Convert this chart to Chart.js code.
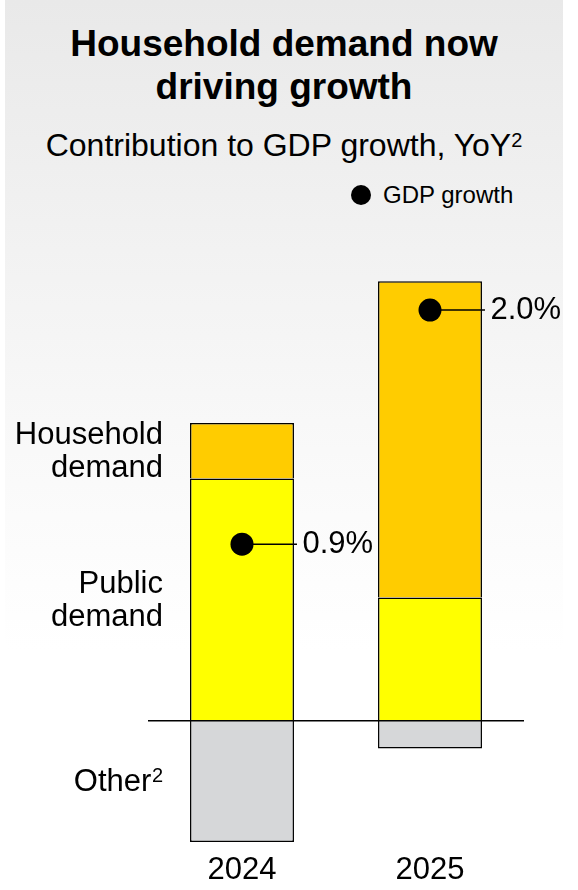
<!DOCTYPE html>
<html><head><meta charset="utf-8">
<script src="https://cdn.jsdelivr.net/npm/chart.js@4.4.1/dist/chart.umd.min.js"></script>
<style>
html,body{margin:0;padding:0;background:#fff;width:578px;height:890px;overflow:hidden;font-family:'Liberation Sans',Arial,sans-serif;}
#bg{position:absolute;left:5px;top:0;width:558px;height:890px;background:linear-gradient(to bottom,#e9e9e9 0px,#f2f2f2 250px,#f9f9f9 450px,#ffffff 650px);}
.t{position:absolute;white-space:nowrap;color:#000;}
#title{left:5px;width:558px;top:22px;text-align:center;font-weight:bold;font-size:37px;line-height:43px;}
#sub{left:5px;width:558px;top:128.6px;text-align:center;font-size:32px;line-height:32px;}
#sub span{font-size:20px;position:relative;top:-9px;}
#ldot{position:absolute;left:351px;top:185px;width:20px;height:20px;border-radius:50%;background:#000;}
#ltxt{left:383px;top:183.3px;font-size:24px;line-height:24px;}
#c{position:absolute;left:0;top:0;}
</style></head>
<body>
<div id="bg"></div>
<div class="t" id="title">Household demand now<br>driving growth</div>
<div class="t" id="sub">Contribution to GDP growth, YoY<span>2</span></div>
<div id="ldot"></div>
<div class="t" id="ltxt">GDP growth</div>
<canvas id="c" width="578" height="897"></canvas>
<script>
// ---- data ----
const categories = ['2024', '2025'];
const publicDemand = [1.18, 0.60];
const householdDemand = [0.27, 1.54];
const otherContrib = [-0.59, -0.135];
const gdpGrowth = [0.86, 2.0];
const seriesLabels = [['Public', 'demand'], ['Household', 'demand'], ['Other²']];
const legendLabel = 'GDP growth';

const FONT = "'Liberation Sans', Arial, sans-serif";
Chart.defaults.font.family = FONT;
Chart.defaults.color = '#000';

function drawLine(ctx, text, xRight, baseline, size) {
  const supIdx = text.indexOf('²');
  if (supIdx < 0) {
    ctx.textAlign = 'right';
    ctx.font = size + 'px ' + FONT;
    ctx.fillText(text, xRight, baseline);
    return;
  }
  const main = text.slice(0, supIdx);
  ctx.font = size + 'px ' + FONT;
  const wMain = ctx.measureText(main).width;
  const supSize = Math.round(size * 0.64);
  ctx.font = supSize + 'px ' + FONT;
  const wSup = ctx.measureText('2').width;
  const gap = 0.5;
  const x0 = xRight - wMain - gap - wSup;
  ctx.textAlign = 'left';
  ctx.font = size + 'px ' + FONT;
  ctx.fillText(main, x0, baseline);
  ctx.font = supSize + 'px ' + FONT;
  ctx.fillText('2', x0 + wMain + gap, baseline - size * 0.3);
}

const annot = {
  id: 'annot',
  afterDatasetsDraw(chart) {
    const ctx = chart.ctx;
    const ys = chart.scales.y;
    const area = chart.chartArea;
    ctx.save();
    // zero line
    const y0 = ys.getPixelForValue(0);
    ctx.strokeStyle = '#000';
    ctx.lineWidth = 1.5;
    ctx.beginPath();
    ctx.moveTo(area.left, y0);
    ctx.lineTo(area.right, y0);
    ctx.stroke();
    // series labels left of first bar
    ctx.fillStyle = '#000';
    ctx.textBaseline = 'alphabetic';
    for (let d = 0; d < 3; d++) {
      const el = chart.getDatasetMeta(d).data[0];
      const center = (el.y + el.base) / 2;
      const lines = seriesLabels[d];
      lines.forEach((ln, k) => {
        const bl = center + (k - (lines.length - 1) / 2) * 33.5 + 10;
        drawLine(ctx, ln, 163, bl, 31);
      });
    }
    // GDP value connectors and labels
    const pm = chart.getDatasetMeta(3);
    pm.data.forEach((pt, i) => {
      const bar = chart.getDatasetMeta(0).data[i];
      const right = bar.x + bar.width / 2;
      ctx.strokeStyle = '#000';
      ctx.lineWidth = 1.5;
      ctx.beginPath();
      ctx.moveTo(pt.x, pt.y);
      ctx.lineTo(right + 3, pt.y);
      ctx.stroke();
      ctx.font = '31px ' + FONT;
      ctx.textAlign = 'left';
      ctx.textBaseline = 'middle';
      ctx.fillText(gdpGrowth[i].toFixed(1) + '%', right + 8.5, pt.y);
    });
    ctx.restore();
  }
};

const barCommon = {
  borderColor: '#000',
  borderWidth: 1.5,
  barPercentage: 0.553,
  categoryPercentage: 1.0,
  stack: 'bars',
  order: 1
};

new Chart(document.getElementById('c'), {
  type: 'bar',
  data: {
    labels: categories,
    datasets: [
      Object.assign({ label: 'Public demand', data: publicDemand, backgroundColor: '#FFFF00' }, barCommon),
      Object.assign({ label: 'Household demand', data: householdDemand, backgroundColor: '#FFCC00' }, barCommon),
      Object.assign({ label: 'Other', data: otherContrib, backgroundColor: '#D6D7D9' }, barCommon),
      {
        type: 'line', label: legendLabel, data: gdpGrowth, stack: 'gdp', order: 0,
        showLine: false, pointRadius: 11.5, pointHoverRadius: 11.5,
        pointBackgroundColor: '#000', pointBorderWidth: 0, borderColor: '#000', backgroundColor: '#000'
      }
    ]
  },
  options: {
    responsive: false,
    animation: false,
    events: [],
    layout: { padding: { left: 148, right: 54, top: 269, bottom: 0 } },
    plugins: { legend: { display: false }, tooltip: { enabled: false }, title: { display: false } },
    scales: {
      x: {
        stacked: true,
        grid: { display: false, drawTicks: false },
        border: { display: false },
        ticks: { color: '#000', font: { size: 31 }, padding: 7.9 }
      },
      y: {
        stacked: true,
        display: false,
        min: -0.6,
        max: 2.2
      }
    }
  },
  plugins: [annot]
});
</script>
</body></html>
